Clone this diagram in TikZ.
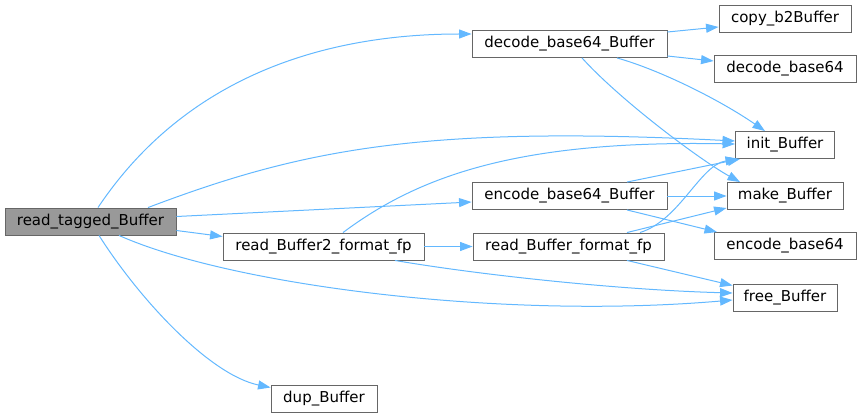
\documentclass[tikz,border=0pt]{standalone}
\usepackage{fontspec}
\setmainfont{DejaVu Sans}
\usetikzlibrary{arrows.meta}
\definecolor{edgeblue}{HTML}{63B8FF}
\definecolor{boxgray}{HTML}{666666}
\definecolor{rootgray}{HTML}{999999}
\tikzset{
	fn/.style={draw=boxgray, line width=0.9pt, minimum height=27pt, inner sep=0pt, font=\fontsize{15}{18}\selectfont},
	root/.style={fn, fill=rootgray},
	call/.style={draw=edgeblue, line width=1pt, -{Triangle[length=12.5pt,width=9pt]}}
}
\begin{document}
\begin{tikzpicture}[x=1pt, y=-1pt]
			%%%%% START %%%%%
			\useasboundingbox (0, 0) rectangle (861, 417);
			
			\node[root, minimum width=171pt] (rtb) at (90.5, 221.5) {read\_tagged\_Buffer};
			\node[fn, minimum width=201pt] (rb2) at (323.5, 246.5) {read\_Buffer2\_format\_fp};
			\node[fn, minimum width=106pt] (dup) at (324, 398.5) {dup\_Buffer};
			
			\node[fn, minimum width=195pt] (dec) at (569.5, 44) {decode\_base64\_Buffer};
			\node[fn, minimum width=195pt] (enc) at (569.5, 196) {encode\_base64\_Buffer};
			\node[fn, minimum width=191pt] (rbf) at (568.5, 246.5) {read\_Buffer\_format\_fp};
			
			\node[fn, minimum width=132pt] (copy) at (785, 18.5) {copy\_b2Buffer};
			\node[fn, minimum width=142pt] (decb) at (785, 69) {decode\_base64};
			\node[fn, minimum width=99pt] (init) at (785, 145) {init\_Buffer};
			\node[fn, minimum width=116pt] (make) at (785, 196) {make\_Buffer};
			\node[fn, minimum width=142pt] (encb) at (785, 246) {encode\_base64};
			\node[fn, minimum width=104pt] (free) at (785, 297.5) {free\_Buffer};
			
			% read_tagged_Buffer
			\draw[call] ([xshift=7.5pt]rtb.north) .. controls (188, 73) and (330, 34) .. ([yshift=10pt]dec.west);
			\draw[call] ([xshift=57.5pt]rtb.north) .. controls (300, 150) and (420, 125) .. ([yshift=4pt]init.west);
			\draw[call] ([yshift=5pt]rtb.east) -- ([yshift=-6pt]enc.west);
			\draw[call] ([yshift=-9pt]rtb.east) -- ([yshift=10pt]rb2.west);
			\draw[call] ([xshift=28.5pt]rtb.south) .. controls (230, 285) and (500, 320) .. ([yshift=-2.5pt]free.west);
			\draw[call] ([xshift=8.5pt]rtb.south) .. controls (140, 300) and (210, 375) .. ([yshift=11pt]dup.west);
			
			% read_Buffer2_format_fp
			\draw[call] ([xshift=19.5pt]rb2.north) .. controls (420, 175) and (520, 140) .. ([yshift=1pt]init.west);
			\draw[call] (rb2.east) -- (rbf.west);
			\draw[call] ([xshift=71.5pt]rb2.south) .. controls (480, 275) and (620, 290) .. ([yshift=4.5pt]free.west);
			
			% decode_base64_Buffer
			\draw[call] ([yshift=12pt]dec.east) -- ([yshift=-8.5pt]copy.west);
			\draw[call] ([yshift=-12pt]dec.east) -- ([yshift=8pt]decb.west);
			\draw[call] ([xshift=47.5pt]dec.south) .. controls (660, 70) and (720, 100) .. ([xshift=-20pt]init.north);
			\draw[call] ([xshift=12.5pt]dec.south) .. controls (620, 100) and (700, 160) .. ([xshift=-45pt]make.north);
			
			% encode_base64_Buffer
			\draw[call] ([xshift=57.5pt]enc.north) -- ([xshift=-45pt]init.south);
			\draw[call] (enc.east) -- (make.west);
			\draw[call] ([xshift=57.5pt]enc.south) -- ([xshift=-68pt]encb.north);
			
			% read_Buffer_format_fp
			\draw[call] ([xshift=71.5pt]rbf.north) .. controls (680, 220) and (700, 165) .. ([xshift=-47pt]init.south);
			\draw[call] ([xshift=58.5pt]rbf.north) -- ([yshift=-12pt]make.west);
			\draw[call] ([xshift=58.5pt]rbf.south) -- ([yshift=12pt]free.west);
			%%%%% END %%%%%
\end{tikzpicture}
\end{document}
